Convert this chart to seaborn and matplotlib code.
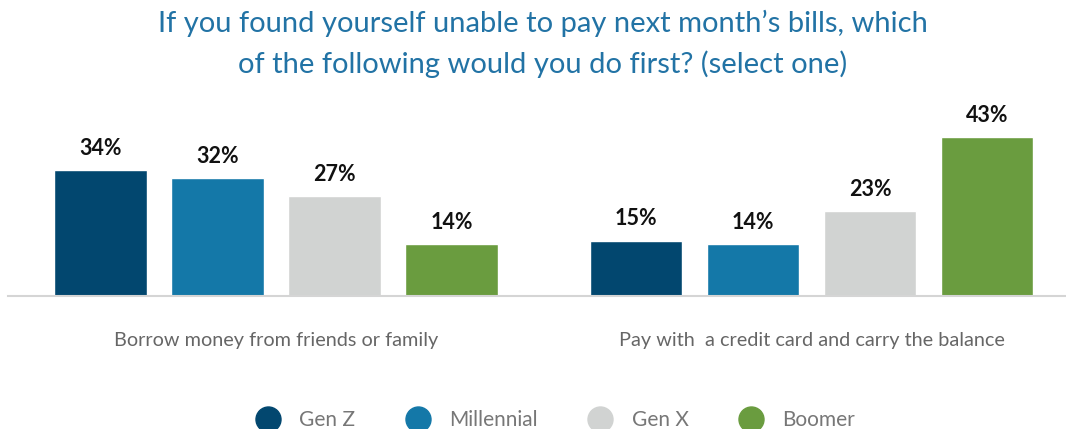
import matplotlib
matplotlib.use("Agg")
import matplotlib.pyplot as plt
from matplotlib.lines import Line2D
import pandas as pd
import seaborn as sns

# Survey responses by generation
categories = ["Borrow money from friends or family",
              "Pay with  a credit card and carry the balance"]
generations = ["Gen Z", "Millennial", "Gen X", "Boomer"]
gen_z = [34, 15]
millennial = [32, 14]
gen_x = [27, 23]
boomer = [14, 43]
colors = ["#02476F", "#1478A8", "#D1D3D2", "#6A9C3F"]

title = ("If you found yourself unable to pay next month\u2019s bills, which\n"
         "of the following would you do first? (select one)")

rows = []
for gen, vals in zip(generations, [gen_z, millennial, gen_x, boomer]):
    for cat, v in zip(categories, vals):
        rows.append({"category": cat, "generation": gen, "value": v})
df = pd.DataFrame(rows)

sns.set_style("white")
plt.rcParams["font.family"] = ["Lato", "DejaVu Sans"]

fig = plt.figure(figsize=(10.66, 4.29), dpi=100)
ax = fig.add_axes([8 / 1066, 133 / 429, 1 - 8 / 1066, 196 / 429])

sns.barplot(data=df, x="category", y="value", hue="generation",
            hue_order=generations, order=categories, palette=colors,
            width=0.874, gap=0.21, errorbar=None, legend=False,
            saturation=1, ax=ax)

for container in ax.containers:
    ax.bar_label(container, labels=[f"{int(v)}%" for v in container.datavalues],
                 padding=8, fontsize=15.5, fontweight="bold", color="#111111")

ax.set_xlim(-0.5005, 1.4753)
ax.set_ylim(0, 53)
ax.set_xlabel("")
ax.set_ylabel("")
ax.set_yticks([])
ax.tick_params(axis="x", length=0, pad=26, labelsize=14.3, labelcolor="#666666")
for side in ["top", "right", "left"]:
    ax.spines[side].set_visible(False)
ax.spines["bottom"].set_color("#d5d5d5")
ax.spines["bottom"].set_linewidth(1.5)

fig.text(0.509, 1 - 44 / 429, title, ha="center", va="center",
         fontsize=21, color="#2273A5", linespacing=1.6)

handles = [Line2D([0], [0], marker="o", linestyle="", markersize=18,
                  markerfacecolor=c, markeredgecolor=c) for c in colors]
fig.legend(handles, generations, loc="center", bbox_to_anchor=(0.517, 1 - 420 / 429),
           ncol=4, frameon=False, fontsize=15, labelcolor="#777777",
           handletextpad=0.5, columnspacing=2.0)

fig.savefig("out.png", dpi=100)
